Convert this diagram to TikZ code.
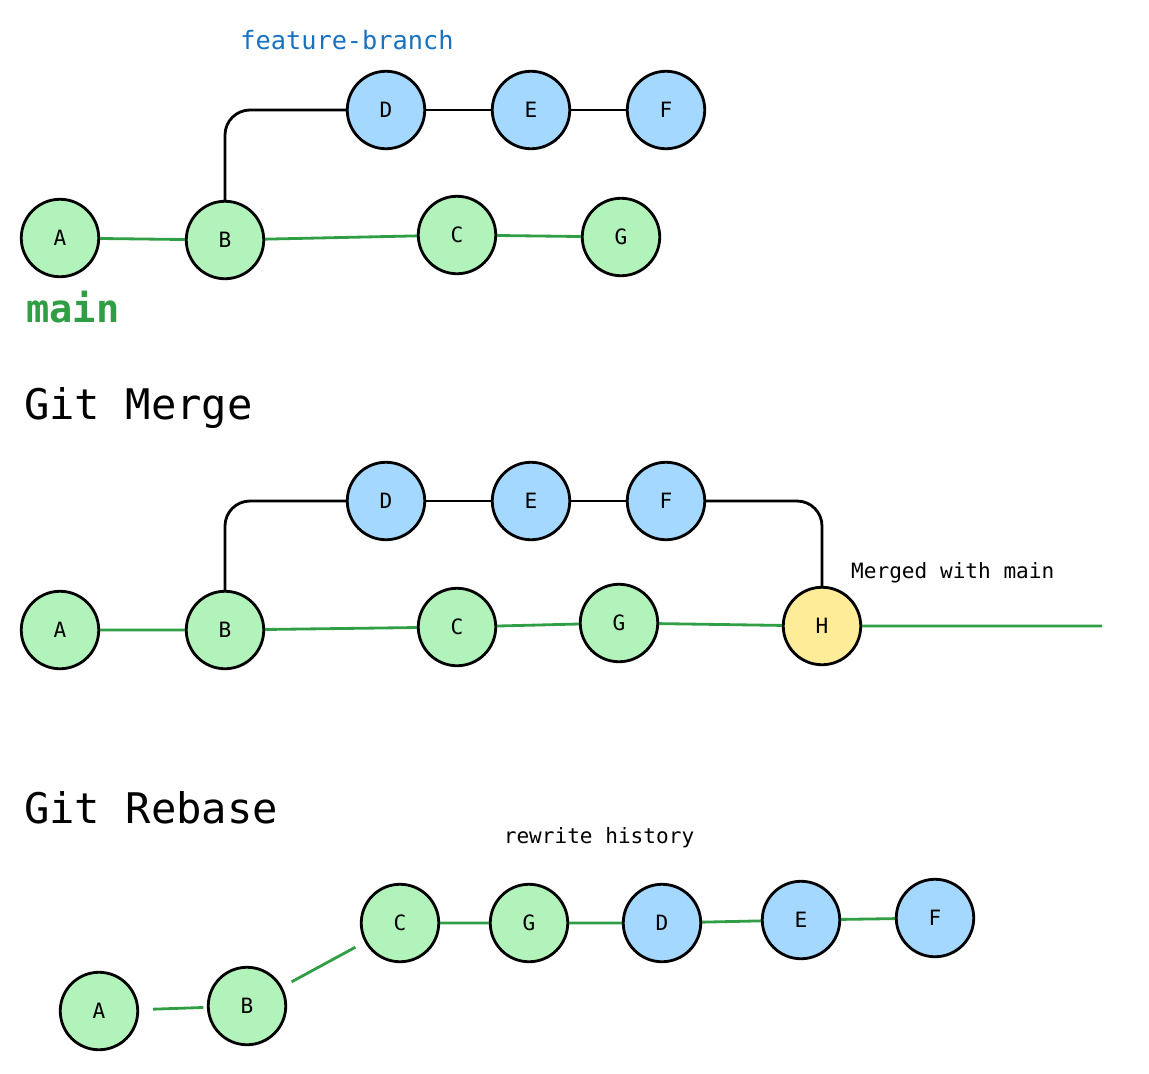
\documentclass[tikz,border=0pt]{standalone}
\usepackage{fontspec}
\setmainfont{DejaVu Sans Mono}
\usetikzlibrary{positioning}
\definecolor{mainfill}{HTML}{B2F2BB}
\definecolor{featfill}{HTML}{A5D8FF}
\definecolor{mergefill}{HTML}{FFEC99}
\definecolor{mainline}{HTML}{2F9E44}
\definecolor{feattext}{HTML}{1971C2}
\tikzset{commit/.style={circle, draw, line width=1.6pt, minimum size=1.55cm, inner sep=0pt, font=\large},
         maincommit/.style={commit, fill=mainfill},
         featcommit/.style={commit, fill=featfill},
         mergecommit/.style={commit, fill=mergefill},
         mainedge/.style={mainline, line width=1.6pt},
         featedge/.style={black, line width=1.6pt, rounded corners=0.5cm},
         title/.style={font=\fontsize{24}{28}\selectfont, anchor=west}}
\begin{document}
\begin{tikzpicture}[x=0.02cm, y=-0.02cm]
        \useasboundingbox (0,0) rectangle (1149,1073);

        % Before
        \node[maincommit] (a1) at (60,238) {A};
        \node[maincommit] (b1) at (225,240) {B};
        \node[maincommit] (c1) at (457,235) {C};
        \node[maincommit] (g1) at (621,237) {G};
        \node[featcommit] (d1) at (386,110) {D};
        \node[featcommit] (e1) at (531,110) {E};
        \node[featcommit] (f1) at (666,110) {F};
        \node[font=\Large, text=feattext] (fb) at (347,40) {feature-branch};
        \node[font=\fontsize{22}{26}\selectfont\bfseries, text=mainline] (mn) at (73,307) {main};
        \draw[mainedge] (a1) -- (b1) -- (c1) -- (g1);
        \draw[featedge] (b1.north) -- (b1.north |- d1) -- (d1);
        \draw[featedge] (d1) -- (e1) -- (f1);

        % Git Merge
        \node[title] (tm) at (18,408) {Git Merge};
        \node[maincommit] (a2) at (60,630) {A};
        \node[maincommit] (b2) at (225,630) {B};
        \node[maincommit] (c2) at (457,627) {C};
        \node[maincommit] (g2) at (619,623) {G};
        \node[mergecommit] (h2) at (822,626) {H};
        \node[featcommit] (d2) at (386,501) {D};
        \node[featcommit] (e2) at (531,501) {E};
        \node[featcommit] (f2) at (666,501) {F};
        \coordinate (end2) at (1102,626);
        \node[font=\large, anchor=west] (mw) at (845,573) {Merged with main};
        \draw[mainedge] (a2) -- (b2) -- (c2) -- (g2) -- (h2) -- (end2);
        \draw[featedge] (b2.north) -- (b2.north |- d2) -- (d2);
        \draw[featedge] (d2) -- (e2) -- (f2);
        \draw[featedge] (f2) -- (h2.north |- f2) -- (h2.north);

        % Git Rebase
        \node[title] (tr) at (18,808) {Git Rebase};
        \node[font=\large] (rh) at (599,838) {rewrite history};
        \node[maincommit] (a3) at (99,1011) {A};
        \node[maincommit] (b3) at (247,1006) {B};
        \node[maincommit] (c3) at (400,923) {C};
        \node[maincommit] (g3) at (529,923) {G};
        \node[featcommit] (d3) at (662,923) {D};
        \node[featcommit] (e3) at (801,920) {E};
        \node[featcommit] (f3) at (935,918) {F};
        \draw[mainedge, shorten <=8pt, shorten >=2pt] (a3) -- (b3);
        \draw[mainedge, shorten <=6pt, shorten >=6pt] (b3) -- (c3);
        \draw[mainedge] (c3) -- (g3) -- (d3) -- (e3) -- (f3);
\end{tikzpicture}
\end{document}
